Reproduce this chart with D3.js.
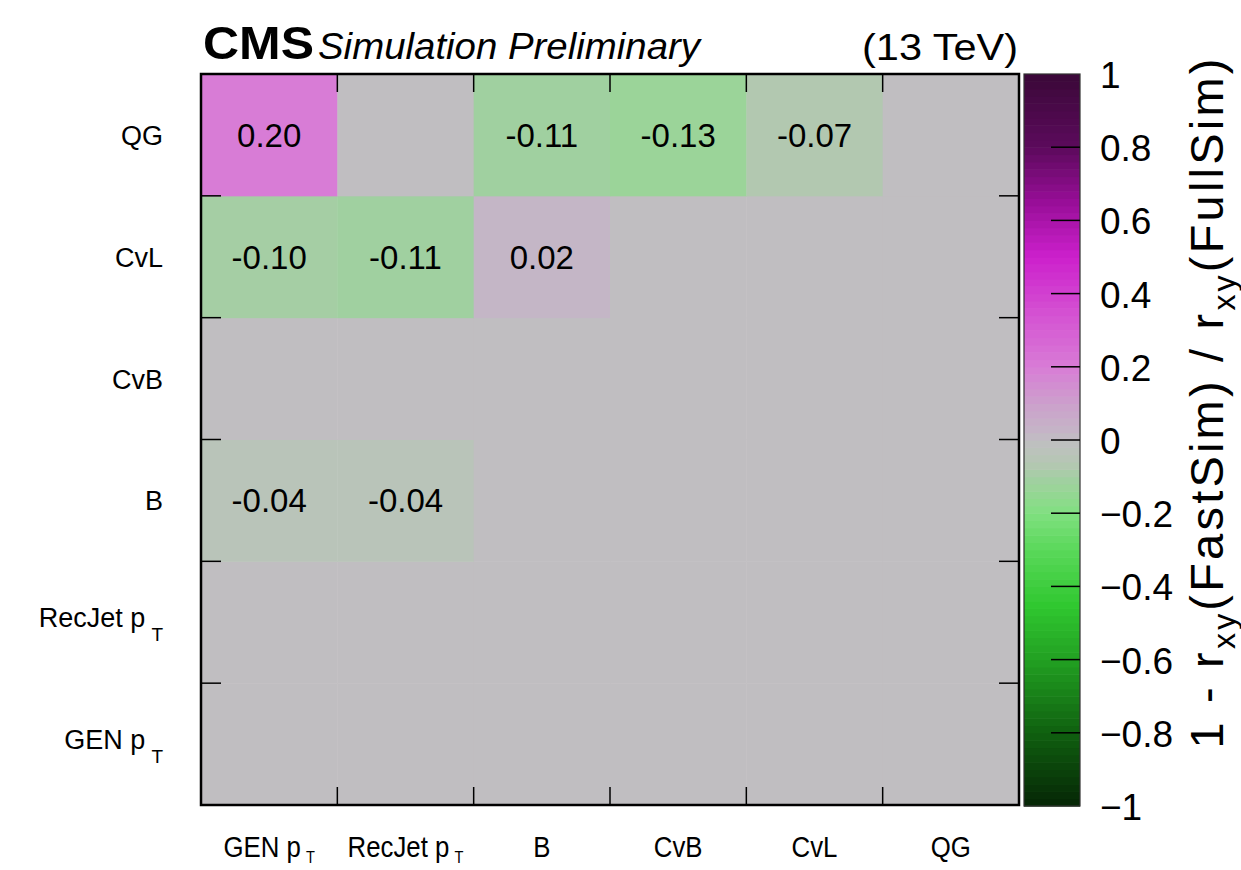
<!DOCTYPE html>
<html>
<head>
<meta charset="utf-8">
<script src="https://cdn.jsdelivr.net/npm/d3@7"></script>
<style>
  html, body { margin: 0; padding: 0; background: #fff; }
  svg { display: block; }
  text { font-family: "Liberation Sans", Arial, Helvetica, sans-serif; fill: #000; }
</style>
</head>
<body>
<svg id="chart" width="1241" height="870"></svg>
<script>
// Variables (bottom-to-top on y, left-to-right on x)
const varNames = ["GEN p", "RecJet p", "B", "CvB", "CvL", "QG"];
const varSubs  = ["T", "T", "", "", "", ""];

// 1 - r_xy(FastSim)/r_xy(FullSim), one array per row (columns in varNames order)
const rowGEN    = [0, 0, 0, 0, 0, 0];
const rowRecJet = [0, 0, 0, 0, 0, 0];
const rowB      = [-0.04, -0.04, 0, 0, 0, 0];
const rowCvB    = [0, 0, 0, 0, 0, 0];
const rowCvL    = [-0.10, -0.11, 0.02, 0, 0, 0];
const rowQG     = [0.20, 0, -0.11, -0.13, -0.07, 0];
const rows = [rowGEN, rowRecJet, rowB, rowCvB, rowCvL, rowQG];

// Colour bar tick values
const cbTicks = [1, 0.8, 0.6, 0.4, 0.2, 0, -0.2, -0.4, -0.6, -0.8, -1];

// Green - grey - magenta palette
const palVals = [-1, -0.8, -0.6, -0.45, -0.3, -0.2, -0.13, -0.11, -0.07, -0.04, 0, 0.02, 0.1, 0.2, 0.35, 0.5, 0.65, 0.8, 1];
const palCols = ["#052505", "#0f600f", "#22a022", "#30c830", "#5ad85a", "#80e080", "#9bd499", "#a0d0a0",
                 "#b2c8b0", "#b9c4b9", "#c0bec1", "#c4b6c6", "#cca0cc", "#d87cd6", "#d450d2", "#cc20cc",
                 "#980e98", "#5c0a5c", "#3a0838"];

const svg = d3.select("#chart");
const plot = { left: 201, right: 1019, top: 74, bottom: 805 };
const cb = { left: 1024, right: 1080, top: 74, bottom: 806 };

const x = d3.scaleBand().domain(varNames).range([plot.left, plot.right]);
const y = d3.scaleBand().domain(varNames).range([plot.bottom, plot.top]);
const color = d3.scaleLinear().domain(palVals).range(palCols).interpolate(d3.interpolateRgb).clamp(true);
const cbY = d3.scaleLinear().domain([-1, 1]).range([cb.bottom, cb.top]);

// Cells
const cells = [];
rows.forEach((vals, ri) => vals.forEach((v, ci) => cells.push({ row: varNames[ri], col: varNames[ci], v })));

svg.append("g").selectAll("rect").data(cells).join("rect")
  .attr("x", d => x(d.col))
  .attr("y", d => y(d.row))
  .attr("width", x.bandwidth() + 0.5)
  .attr("height", y.bandwidth() + 0.5)
  .attr("fill", d => color(d.v));

svg.append("g").selectAll("text").data(cells.filter(d => d.v !== 0)).join("text")
  .attr("x", d => x(d.col) + x.bandwidth() / 2)
  .attr("y", d => y(d.row) + y.bandwidth() / 2 + 12)
  .attr("text-anchor", "middle")
  .attr("font-size", 33)
  .text(d => d.v.toFixed(2));

// Frame ticks at the bin edges
const ticks = svg.append("g").attr("stroke", "#000").attr("stroke-width", 1.5);
varNames.slice(1).forEach(n => {
  const xe = x(n), ye = y(n) + y.bandwidth();
  ticks.append("line").attr("x1", xe).attr("x2", xe).attr("y1", plot.top).attr("y2", plot.top + 18);
  ticks.append("line").attr("x1", xe).attr("x2", xe).attr("y1", plot.bottom).attr("y2", plot.bottom - 18);
  ticks.append("line").attr("y1", ye).attr("y2", ye).attr("x1", plot.left).attr("x2", plot.left + 20);
  ticks.append("line").attr("y1", ye).attr("y2", ye).attr("x1", plot.right).attr("x2", plot.right - 20);
});

svg.append("rect")
  .attr("x", plot.left).attr("y", plot.top)
  .attr("width", plot.right - plot.left).attr("height", plot.bottom - plot.top)
  .attr("fill", "none").attr("stroke", "#000").attr("stroke-width", 2.5);

// Row labels
const yl = svg.append("g").selectAll("text").data(varNames).join("text")
  .attr("x", 163)
  .attr("y", (d, i) => y(d) + y.bandwidth() / 2 + (varSubs[i] ? 5 : 10))
  .attr("text-anchor", "end")
  .attr("font-size", 27);
yl.append("tspan").text(d => d);
yl.filter((d, i) => varSubs[i]).append("tspan")
  .attr("dx", 6).attr("dy", 14).attr("font-size", 19)
  .text(d => varSubs[varNames.indexOf(d)]);

// Column labels (narrow glyphs)
const xl = svg.append("g").selectAll("g").data(varNames).join("g")
  .attr("transform", d => `translate(${x(d) + x.bandwidth() / 2},857) scale(0.86,1)`);
const xt = xl.append("text").attr("text-anchor", "middle").attr("font-size", 30);
xt.append("tspan").text(d => d);
xt.filter((d, i) => varSubs[i]).append("tspan")
  .attr("dx", 6).attr("dy", 6).attr("font-size", 17)
  .text(d => varSubs[varNames.indexOf(d)]);

// Colour bar
const bands = d3.range(100).map(i => -1 + i * 0.02);
svg.append("g").selectAll("rect").data(bands).join("rect")
  .attr("x", cb.left)
  .attr("y", d => cbY(d + 0.02))
  .attr("width", cb.right - cb.left)
  .attr("height", d => cbY(d) - cbY(d + 0.02) + 0.6)
  .attr("fill", d => color(d + 0.01));

svg.append("rect")
  .attr("x", cb.left).attr("y", cb.top)
  .attr("width", cb.right - cb.left).attr("height", cb.bottom - cb.top)
  .attr("fill", "none").attr("stroke", "#333").attr("stroke-width", 1.2);

svg.append("g").attr("stroke", "#000").attr("stroke-width", 1.5)
  .selectAll("line").data(cbTicks.filter(t => Math.abs(t) < 1)).join("line")
  .attr("x1", cb.right - 29).attr("x2", cb.right)
  .attr("y1", d => cbY(d)).attr("y2", d => cbY(d));

svg.append("g").selectAll("text").data(cbTicks).join("text")
  .attr("x", 1100)
  .attr("y", d => cbY(d) + 14)
  .attr("font-size", 37)
  .text(d => d < 0 ? "\u2212" + Math.abs(d) : String(d));

// Colour bar title
const title = svg.append("text")
  .attr("transform", "translate(1223,402) rotate(-90)")
  .attr("text-anchor", "middle")
  .attr("font-size", 47)
  .attr("letter-spacing", 3.2);
title.append("tspan").text("1 - r");
title.append("tspan").attr("font-size", 32).attr("dy", 12).text("xy");
title.append("tspan").attr("dy", -12).text("(FastSim) / r");
title.append("tspan").attr("font-size", 32).attr("dy", 12).text("xy");
title.append("tspan").attr("dy", -12).text("(FullSim)");

// Header
svg.append("text").attr("x", 203).attr("y", 59)
  .attr("font-size", 47).attr("font-weight", "bold")
  .attr("textLength", 111).attr("lengthAdjust", "spacingAndGlyphs")
  .text("CMS");
svg.append("text").attr("x", 318).attr("y", 59)
  .attr("font-size", 36).attr("font-style", "italic")
  .attr("textLength", 382).attr("lengthAdjust", "spacingAndGlyphs")
  .text("Simulation Preliminary");
svg.append("text").attr("x", 862).attr("y", 60)
  .attr("font-size", 36)
  .attr("textLength", 156).attr("lengthAdjust", "spacingAndGlyphs")
  .text("(13 TeV)");
</script>
</body>
</html>
